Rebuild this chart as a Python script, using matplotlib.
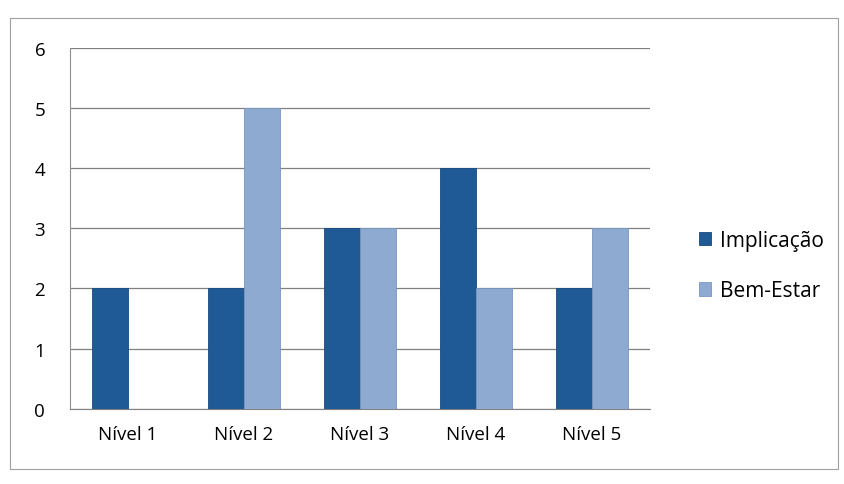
import numpy as np
import matplotlib.pyplot as plt
from matplotlib.patches import Rectangle

categories = ['Nível 1', 'Nível 2', 'Nível 3', 'Nível 4', 'Nível 5']
implicacao = [2, 2, 3, 4, 2]
bem_estar = [0, 5, 3, 2, 3]
series_names = ['Implicação', 'Bem-Estar']

plt.rcParams['font.family'] = ['Open Sans', 'DejaVu Sans']

fig = plt.figure(figsize=(8.45, 4.85), dpi=100)
ax = fig.add_axes([0.083, 0.155, 0.686, 0.745])

x = np.arange(len(categories))
w = 0.31
ax.bar(x - w / 2, implicacao, w, color='#1f5a96', edgecolor='#174a80', linewidth=0.6,
       label=series_names[0], zorder=3)
ax.bar(x + w / 2, bem_estar, w, color='#8eaad0', edgecolor='#7896c0', linewidth=0.6,
       label=series_names[1], zorder=3)

ax.set_ylim(0, 6)
ax.set_xlim(-0.5, len(categories) - 0.5)
ax.set_yticks(range(7))
ax.set_xticks(x)
ax.set_xticklabels(categories)
ax.tick_params(axis='both', labelsize=13.5, length=0)
ax.tick_params(axis='y', pad=18)
ax.tick_params(axis='x', pad=12)
ax.yaxis.grid(True, color='#808080', linewidth=0.9, zorder=0)

for side in ['top', 'right']:
    ax.spines[side].set_visible(False)
ax.spines['left'].set_color('#909090')
ax.spines['bottom'].set_color('#808080')

fig.legend(loc='center left', bbox_to_anchor=(0.805, 0.45), frameon=False,
           fontsize=15, handlelength=0.6, handleheight=0.6, labelspacing=1.4,
           handletextpad=0.4)

fig.patches.append(Rectangle((0.012, 0.03), 0.98, 0.93, transform=fig.transFigure,
                             fill=False, edgecolor='#a0a0a0', linewidth=0.8))

fig.savefig('out.png', dpi=100)
